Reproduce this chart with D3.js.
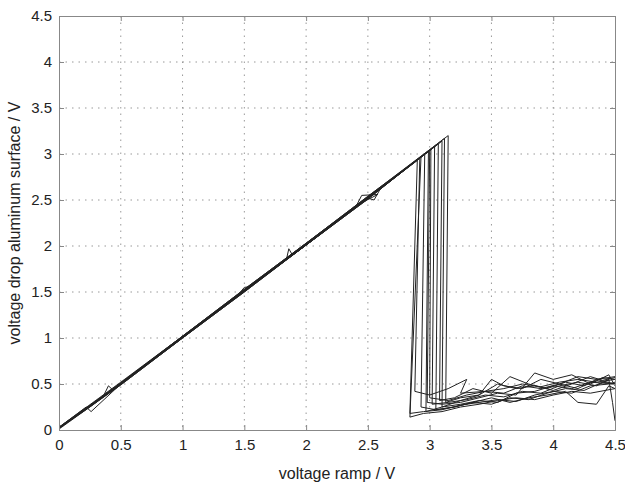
<!DOCTYPE html>
<html>
<head>
<meta charset="utf-8">
<script src="https://cdn.jsdelivr.net/npm/d3@7"></script>
<style>
body { margin: 0; background: #fff; }
text { font-family: "Liberation Sans", Arial, sans-serif; }
</style>
</head>
<body>
<svg id="chart" width="625" height="485"></svg>
<script>
// tick values
var xTicks = [0, 0.5, 1, 1.5, 2, 2.5, 3, 3.5, 4, 4.5];
var yTicks = [0, 0.5, 1, 1.5, 2, 2.5, 3, 3.5, 4, 4.5];

// measured traces [ramp, drop]
var t1 = [[0,0.02],[0.25,0.25],[0.5,0.5],[1,1.01],[1.5,1.51],[2,2.01],[2.5,2.52],[2.9,2.93],[2.84,0.18],[2.95,0.2],[3.1,0.22],[3.25,0.27],[3.4,0.3],[3.55,0.33],[3.7,0.31],[3.85,0.38],[4.0,0.42],[4.15,0.4],[4.3,0.48],[4.45,0.5],[4.5,0.52]];
var t2 = [[0,0.03],[0.22,0.25],[0.26,0.2],[0.5,0.5],[1,1.01],[1.5,1.52],[2,2.02],[2.5,2.53],[2.92,2.96],[2.88,0.42],[3.0,0.38],[3.15,0.45],[3.3,0.55],[3.25,0.4],[3.45,0.42],[3.6,0.45],[3.75,0.5],[3.9,0.47],[4.05,0.52],[4.2,0.55],[4.35,0.52],[4.5,0.55]];
var t3 = [[0,0.01],[0.5,0.49],[1,1.0],[1.5,1.5],[1.84,1.85],[1.86,1.97],[1.89,1.9],[2,2.01],[2.5,2.51],[2.96,3.0],[2.93,0.25],[3.05,0.22],[3.2,0.25],[3.35,0.3],[3.5,0.28],[3.65,0.35],[3.8,0.33],[3.95,0.4],[4.1,0.45],[4.25,0.43],[4.4,0.52],[4.5,0.5]];
var t4 = [[0,0.02],[0.36,0.37],[0.4,0.48],[0.44,0.43],[0.5,0.51],[1,1.02],[1.5,1.53],[2,2.03],[2.5,2.54],[2.99,3.03],[2.97,0.2],[3.1,0.25],[3.25,0.32],[3.4,0.38],[3.5,0.55],[3.6,0.48],[3.75,0.45],[3.9,0.55],[4.05,0.5],[4.2,0.58],[4.35,0.55],[4.5,0.58]];
var t5 = [[0,0.02],[0.5,0.51],[1,1.01],[1.45,1.47],[1.5,1.55],[1.55,1.56],[2,2.02],[2.5,2.53],[3.0,3.04],[2.98,0.3],[3.1,0.28],[3.25,0.3],[3.4,0.35],[3.55,0.4],[3.7,0.38],[3.85,0.62],[4.0,0.55],[4.15,0.6],[4.3,0.5],[4.45,0.6],[4.5,0.48]];
var t6 = [[0,0.03],[0.5,0.5],[1,1.01],[1.5,1.51],[2,2.02],[2.06,2.08],[2.12,2.15],[2.15,2.17],[2.5,2.52],[3.01,3.05],[3.0,0.35],[3.15,0.32],[3.3,0.38],[3.45,0.42],[3.6,0.4],[3.75,0.48],[3.9,0.45],[4.05,0.5],[4.2,0.45],[4.35,0.55],[4.5,0.5]];
var t7 = [[0,0.02],[0.5,0.5],[1,1.0],[1.5,1.51],[2,2.01],[2.4,2.42],[2.45,2.55],[2.58,2.56],[2.45,2.47],[2.5,2.52],[3.04,3.08],[3.02,0.28],[3.15,0.3],[3.3,0.33],[3.45,0.38],[3.6,0.36],[3.75,0.42],[3.9,0.4],[4.05,0.48],[4.2,0.52],[4.35,0.48],[4.45,0.55],[4.48,0.3],[4.5,0.1]];
var t8 = [[0,0.02],[0.5,0.51],[1,1.02],[1.5,1.52],[2,2.03],[2.5,2.53],[3.07,3.11],[3.05,0.22],[3.2,0.25],[3.35,0.3],[3.5,0.35],[3.65,0.3],[3.8,0.35],[3.95,0.38],[4.1,0.42],[4.2,0.3],[4.35,0.28],[4.45,0.48],[4.5,0.45]];
var t9 = [[0,0.02],[0.5,0.5],[1,1.01],[1.5,1.51],[2,2.01],[2.5,2.52],[2.55,2.5],[2.6,2.62],[3.1,3.14],[3.08,0.32],[3.2,0.35],[3.35,0.45],[3.5,0.4],[3.65,0.58],[3.8,0.5],[3.95,0.45],[4.1,0.52],[4.25,0.48],[4.4,0.57],[4.5,0.55]];
var t10 = [[0,0.02],[0.5,0.51],[1,1.01],[1.5,1.52],[2,2.02],[2.5,2.53],[3.12,3.17],[3.1,0.25],[3.25,0.28],[3.4,0.32],[3.55,0.3],[3.7,0.4],[3.85,0.42],[4.0,0.48],[4.15,0.45],[4.3,0.52],[4.5,0.5]];
var t11 = [[0,0.03],[0.5,0.52],[1,1.02],[1.5,1.53],[2,2.03],[2.5,2.54],[3.15,3.2],[3.13,0.3],[3.25,0.35],[3.4,0.38],[3.55,0.5],[3.7,0.45],[3.85,0.48],[4.0,0.43],[4.15,0.5],[4.3,0.58],[4.4,0.54],[4.5,0.57]];
var t12 = [[0,0.02],[0.5,0.49],[1,1.0],[1.5,1.5],[2,2.01],[2.5,2.51],[2.93,2.97],[2.84,0.14],[2.95,0.18],[3.1,0.2],[3.25,0.25],[3.4,0.28],[3.55,0.32],[3.7,0.35],[3.85,0.33],[4.0,0.38],[4.15,0.42],[4.3,0.4],[4.5,0.45]];
var traces = [t1, t2, t3, t4, t5, t6, t7, t8, t9, t10, t11, t12];

var svg = d3.select("#chart"),
    plotLeft = 59, plotTop = 16, plotRight = 615, plotBottom = 430;

var x = d3.scaleLinear().domain([0, 4.5]).range([plotLeft, plotRight]);
var y = d3.scaleLinear().domain([0, 4.5]).range([plotBottom, plotTop]);

// grid
var grid = svg.append("g");
grid.selectAll(".gx").data(xTicks.slice(1, -1)).enter().append("line")
    .attr("x1", function (d) { return x(d); }).attr("x2", function (d) { return x(d); })
    .attr("y1", plotTop).attr("y2", plotBottom)
    .attr("stroke", "#999").attr("stroke-dasharray", "1.5,5");
grid.selectAll(".gy").data(yTicks.slice(1, -1)).enter().append("line")
    .attr("y1", function (d) { return y(d); }).attr("y2", function (d) { return y(d); })
    .attr("x1", plotLeft).attr("x2", plotRight)
    .attr("stroke", "#999").attr("stroke-dasharray", "1.5,5");

// traces
var line = d3.line()
    .x(function (d) { return x(d[0]); })
    .y(function (d) { return y(d[1]); });

svg.append("g").selectAll("path")
    .data(traces)
    .enter().append("path")
    .attr("d", line)
    .attr("fill", "none")
    .attr("stroke", "#222")
    .attr("stroke-width", 1);

// axes
var fmt = function (d) { return String(d); };
var xAxis = svg.append("g").attr("transform", "translate(0," + plotBottom + ")")
    .call(d3.axisBottom(x).tickValues(xTicks).tickSize(-5).tickPadding(9).tickFormat(fmt));
var yAxis = svg.append("g").attr("transform", "translate(" + plotLeft + ",0)")
    .call(d3.axisLeft(y).tickValues(yTicks).tickSize(-5).tickPadding(7).tickFormat(fmt));
var xTop = svg.append("g").attr("transform", "translate(0," + plotTop + ")")
    .call(d3.axisTop(x).tickValues(xTicks).tickSize(-5).tickFormat(""));
var yRight = svg.append("g").attr("transform", "translate(" + plotRight + ",0)")
    .call(d3.axisRight(y).tickValues(yTicks).tickSize(-5).tickFormat(""));

[xAxis, yAxis, xTop, yRight].forEach(function (a) {
    a.select(".domain").attr("stroke", "#888");
    a.selectAll(".tick line").attr("stroke", "#888");
    a.selectAll("text").attr("font-size", 15).attr("fill", "#222")
        .style("font-family", "'Liberation Sans', Arial, sans-serif");
});

svg.append("text")
    .attr("x", (plotLeft + plotRight) / 2)
    .attr("y", 479)
    .attr("text-anchor", "middle")
    .attr("font-size", 16)
    .attr("fill", "#222")
    .text("voltage ramp / V");

svg.append("text")
    .attr("transform", "translate(20," + (plotTop + plotBottom) / 2 + ") rotate(-90)")
    .attr("text-anchor", "middle")
    .attr("font-size", 16)
    .attr("fill", "#222")
    .text("voltage drop aluminum surface / V");
</script>
</body>
</html>
